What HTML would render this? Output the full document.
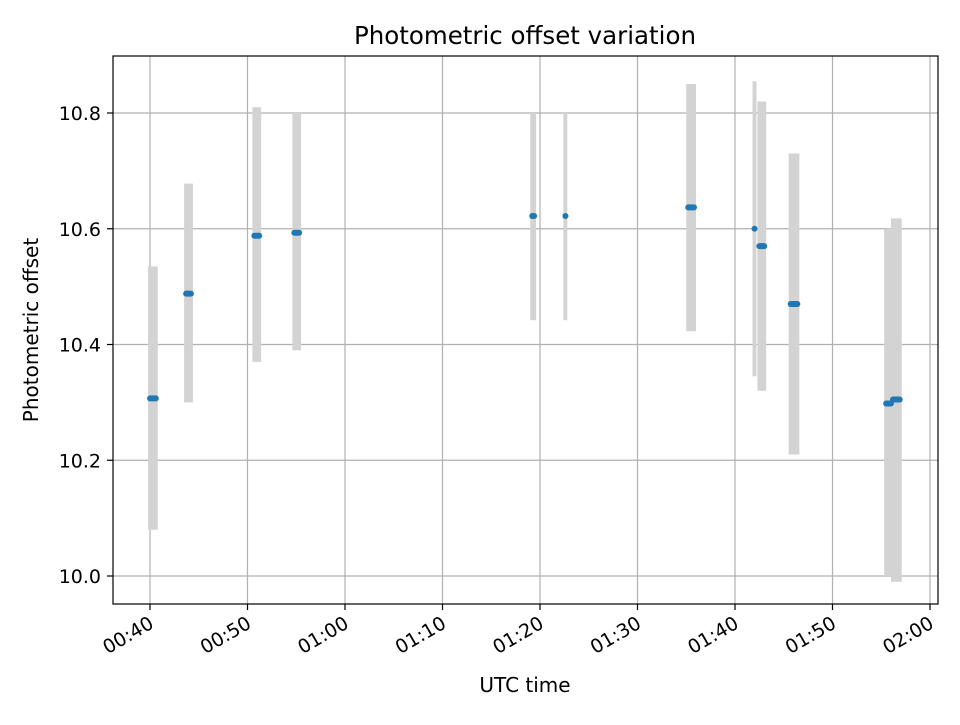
<!DOCTYPE html>
<html><head><meta charset="utf-8"><style>
body{margin:0;background:#fff}
svg text{font-family:"DejaVu Sans","Liberation Sans",sans-serif;fill:#000}
</style></head><body>
<svg id="chart" width="960" height="720" viewBox="0 0 960 720" xmlns="http://www.w3.org/2000/svg">
<rect width="960" height="720" fill="#fff"/>
<g id="grid"></g>
<g id="bars"></g>
<g id="pts"></g>
<rect x="113" y="56" width="825" height="548" fill="none" stroke="#000" stroke-width="1.2"/>
<g id="axes"></g>
<text x="525" y="44" font-size="24.5" text-anchor="middle">Photometric offset variation</text>
<text x="525" y="692" font-size="20" text-anchor="middle">UTC time</text>
<text transform="translate(38,330) rotate(-90)" font-size="20" text-anchor="middle">Photometric offset</text>
</svg>
<script>
// minutes after 00:00
const segStart=[39.8,43.5,50.5,54.6,79.0,82.4,95.0,101.8,102.3,105.5,115.3,116.0];
const segEnd=[40.8,44.4,51.4,55.5,79.6,82.8,96.0,102.2,103.2,106.6,116.2,117.1];
const values=[10.307,10.488,10.588,10.593,10.622,10.622,10.637,10.600,10.570,10.470,10.298,10.305];
const lows=[10.08,10.30,10.37,10.39,10.442,10.442,10.423,10.345,10.32,10.21,10.00,9.99];
const highs=[10.535,10.678,10.81,10.80,10.80,10.80,10.85,10.855,10.82,10.73,10.60,10.618];
const xTicks=[40,50,60,70,80,90,100,110,120];
const xTickLabels=["00:40","00:50","01:00","01:10","01:20","01:30","01:40","01:50","02:00"];
const yTicks=[10.0,10.2,10.4,10.6,10.8];
const yTickLabels=["10.0","10.2","10.4","10.6","10.8"];
const X=m=>150+(m-40)*9.75;
const Y=v=>576-(v-10)*578.75;
const NS="http://www.w3.org/2000/svg";
function mk(p,t,a){const e=document.createElementNS(NS,t);for(const k in a)e.setAttribute(k,a[k]);p.appendChild(e);return e;}
const grid=document.getElementById('grid'),axes=document.getElementById('axes');
xTicks.forEach((t,i)=>{const x=X(t);
 let l=mk(grid,'line',{x1:x,x2:x,y1:56,y2:604,stroke:'#b0b0b0','stroke-width':1.2});
 
 mk(axes,'line',{x1:x,x2:x,y1:604,y2:610,stroke:'#000','stroke-width':1.2});
 let tx=mk(axes,'text',{x:x+5,y:627,'font-size':19,'text-anchor':'end',transform:`rotate(-30 ${x+5} 627)`});
 tx.textContent=xTickLabels[i];
 
});
yTicks.forEach((t,i)=>{const y=Y(t);
 let l=mk(grid,'line',{x1:113,x2:938,y1:y,y2:y,stroke:'#b0b0b0','stroke-width':1.2});
 
 mk(axes,'line',{x1:107,x2:113,y1:y,y2:y,stroke:'#000','stroke-width':1.2});
 let tx=mk(axes,'text',{x:101,y:y+7,'font-size':19,'text-anchor':'end'});
 tx.textContent=yTickLabels[i];
 
});
const bars=document.getElementById('bars'),pts=document.getElementById('pts');
values.forEach((v,i)=>{
 const x0=X(segStart[i]),x1=X(segEnd[i]);
 let r=mk(bars,'rect',{x:x0,y:Y(highs[i]),width:Math.max(x1-x0,3),height:Y(lows[i])-Y(highs[i]),fill:'#d3d3d3'});
 
 let p=mk(pts,'line',{x1:x0+2,x2:Math.max(x1-2,x0+2.01),y1:Y(v),y2:Y(v),stroke:'#1f77b4','stroke-width':6,'stroke-linecap':'round'});
 
});
</script>
</body></html>
